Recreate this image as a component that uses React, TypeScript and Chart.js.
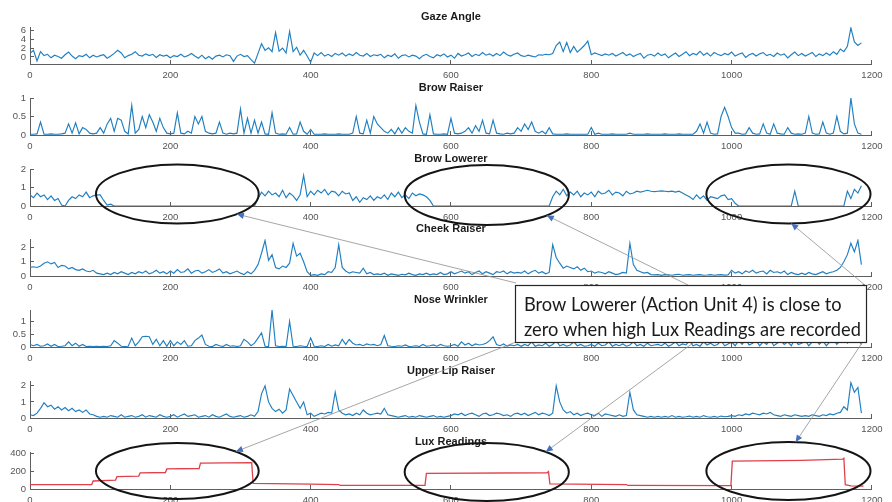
import React, { useEffect, useRef } from "react";
import { Chart, registerables } from "chart.js";
Chart.register(...registerables);

// ---------------- data ----------------
const STEP = 5; // sample spacing (frames)
const X_TICKS = [0, 200, 400, 600, 800, 1000, 1200];

const GAZE = [
  0.8, 1.5, -0.9, 1.2, 0.3, 0.6, -0.2, 0.4, 0.1, -0.3, 0.5, 1.1, 0.2, -0.4, 0.3, 0.1, 0.6, -0.2, 0.4, 0.0,
  0.3, 0.5, -0.3, 0.2, 0.8, 1.5, 0.9, -0.2, 0.3, 0.6, 1.2, 0.4, 0.2, 0.7, 0.3, 0.6, -0.1, 0.5, 0.2, 0.4,
  -0.2, 0.3, 0.1, 0.6, 0.0, 0.3, 0.8, 0.2, -0.3, 0.4, -0.4, 0.1, -0.5, 0.2, 0.4, 0.0, 0.5, 0.3, -1.0, 0.2,
  0.6, 0.1, 0.3, -0.6, -1.4, 0.8, 3.0, 1.5, 2.1, 1.2, 5.5, 1.3, 2.0, 0.9, 5.8, 1.2, 2.2, 0.4, 1.5, 0.2,
  -1.2, 0.9, 0.3, 1.0, 0.2, 0.6, 0.1, 0.8, 0.4, 0.9, 0.2, 0.7, 0.3, 1.0, 0.4, 0.2, 0.8, 0.1, 0.5, 0.3,
  0.6, -0.2, 0.4, 0.1, 0.7, -0.3, 0.3, 0.5, 0.0, 0.4, 0.2, -0.4, 0.3, 0.6, 0.1, -0.2, 0.5, 0.2, 0.7, 0.0,
  0.4, -0.3, 0.8, 0.2, 0.5, 0.9, 0.1, 0.6, 0.3, 1.0, 0.4, 0.7, 0.2, 0.8, 0.3, 1.1, 0.5, 0.2, 0.6, 0.9,
  0.3, 0.1, 0.4, 0.2, 0.0, 0.5, 0.4, 0.6, 0.5, 0.8, 2.6, 3.4, 1.2, 3.3, 1.0, 2.4, 1.1, 1.8, 2.6, 3.6,
  0.5, 0.9, 0.6, 0.3, 0.7, 0.4, 0.8, 0.2, 0.6, 1.0, 0.3, 0.7, 0.1, 0.5, 0.8, -0.3, 0.4, 0.6, 0.2, 0.9,
  0.3, 0.7, -0.2, 0.4, 0.9, 0.1, 0.6, 1.2, 0.3, 0.8, 0.5, 1.3, 0.4, 0.9, 0.2, 1.0, 0.6, 0.3, 0.8, 0.5,
  1.1, 0.2, 0.6, 0.9, -0.1, 0.5, 0.8, 0.2, 0.7, 1.0, 0.3, 0.6, 0.1, 0.9, 0.4, 0.7, -0.2, 0.5, 1.1, 0.3,
  0.8, 0.2, 0.6, 1.0, 0.1, 0.7, 0.3, 0.9, 0.4, 1.2, 0.6, 1.8, 1.2, 2.4, 6.6, 3.4, 2.6, 3.2,
];

const BROW_RAISER = [
  0.02, 0.02, 0.03, 0.35, 0.02, 0.02, 0.03, 0.02, 0.02, 0.03, 0.05, 0.3, 0.05, 0.33, 0.03, 0.2, 0.15, 0.05, 0.03, 0.05,
  0.2, 0.05, 0.3, 0.45, 0.1, 0.45, 0.4, 0.1, 0.03, 0.8, 0.05, 0.15, 0.5, 0.2, 0.55, 0.35, 0.1, 0.45, 0.2, 0.05,
  0.03, 0.05, 0.6, 0.05, 0.03, 0.1, 0.05, 0.5, 0.3, 0.5, 0.1, 0.05, 0.03, 0.05, 0.35, 0.05, 0.02, 0.05, 0.03, 0.05,
  0.7, 0.05, 0.45, 0.05, 0.4, 0.05, 0.35, 0.03, 0.02, 0.6, 0.05, 0.02, 0.03, 0.02, 0.2, 0.02, 0.03, 0.35, 0.1, 0.02,
  0.15, 0.02, 0.02, 0.02, 0.03, 0.02, 0.02, 0.02, 0.03, 0.02, 0.02, 0.02, 0.05, 0.5, 0.05, 0.03, 0.4, 0.05, 0.5, 0.3,
  0.2, 0.1, 0.05, 0.15, 0.03, 0.2, 0.05, 0.2, 0.1, 0.05, 0.8, 0.35, 0.03, 0.02, 0.55, 0.03, 0.02, 0.02, 0.03, 0.02,
  0.45, 0.05, 0.03, 0.05, 0.1, 0.2, 0.05, 0.25, 0.1, 0.4, 0.05, 0.03, 0.4, 0.05, 0.03, 0.02, 0.05, 0.03, 0.05, 0.2,
  0.1, 0.3, 0.15, 0.35, 0.1, 0.05, 0.1, 0.03, 0.2, 0.03, 0.02, 0.02, 0.02, 0.03, 0.02, 0.02, 0.02, 0.02, 0.02, 0.02,
  0.2, 0.02, 0.05, 0.02, 0.02, 0.02, 0.03, 0.02, 0.02, 0.02, 0.02, 0.05, 0.02, 0.02, 0.02, 0.02, 0.03, 0.02, 0.02, 0.02,
  0.02, 0.03, 0.02, 0.02, 0.02, 0.03, 0.02, 0.02, 0.02, 0.02, 0.1, 0.3, 0.05, 0.35, 0.05, 0.02, 0.03, 0.5, 0.75, 0.5,
  0.2, 0.05, 0.05, 0.02, 0.03, 0.2, 0.05, 0.02, 0.03, 0.3, 0.05, 0.02, 0.3, 0.05, 0.03, 0.02, 0.2, 0.05, 0.02, 0.03,
  0.02, 0.05, 0.5, 0.05, 0.02, 0.03, 0.35, 0.05, 0.02, 0.05, 0.5, 0.1, 0.03, 0.05, 1.0, 0.3, 0.05, 0.02,
];

const BROW_LOWERER = [
  0.6, 0.45, 0.7, 0.5, 0.6, 0.35, 0.55, 0.3, 0.4, 0.05, 0.0, 0.3, 0.5, 0.4, 0.6, 0.5, 0.75, 0.45, 0.55, 0.6,
  0.6, 0.3, 0.05, 0.1, 0, 0, 0, 0, 0, 0, 0, 0, 0, 0, 0, 0, 0, 0, 0, 0,
  0, 0, 0, 0, 0, 0, 0, 0, 0, 0, 0, 0, 0, 0, 0, 0, 0, 0, 0, 0,
  0, 0, 0, 0, 0, 0.4, 0.75, 0.55, 0.8, 0.6, 0.7, 0.5, 0.85, 0.45, 0.7, 0.55, 0.3, 0.6, 1.65, 0.5,
  0.8, 0.6, 0.85, 0.7, 0.9, 0.6, 0.8, 0.75, 0.55, 0.8, 0.65, 0.7, 0.3, 0.5, 0.2, 0.45, 0.35, 0.55, 0.3, 0.5,
  0.4, 0.6, 0.35, 0.7, 0.5, 0.75, 0.45, 0.6, 0.4, 0.7, 0.55, 0.65, 0.6, 0.5, 0.3, 0, 0, 0, 0, 0,
  0, 0, 0, 0, 0, 0, 0, 0, 0, 0, 0, 0, 0, 0, 0, 0, 0, 0, 0, 0,
  0, 0, 0, 0, 0, 0, 0, 0, 0, 0.5, 0.8, 0.6, 0.9, 0.55, 0.75, 0.6, 0.8, 0.5, 0.7, 0.6,
  0.75, 0.5, 0.8, 0.65, 0.7, 0.85, 0.6, 0.75, 0.7, 0.55, 0.8, 0.65, 0.7, 0.8, 0.75, 0.8, 0.85, 0.8, 0.78, 0.8,
  0.82, 0.8, 0.78, 0.8, 0.75, 0.8, 0.7, 0.6, 0.5, 0.35, 0.6, 0.4, 0.55, 0.3, 0.5, 0.45, 0.4, 0.55, 0.6, 0.35,
  0.4, 0.15, 0, 0, 0, 0, 0, 0, 0, 0, 0, 0, 0, 0, 0, 0, 0, 0, 0.8, 0,
  0, 0, 0, 0, 0, 0, 0, 0, 0, 0, 0, 0, 0, 0.8, 0.4, 0.9, 0.7, 1.1,
];

const CHEEK_RAISER = [
  0.6, 0.65, 0.6, 0.7, 0.9, 1.0, 0.85, 0.95, 0.6, 0.75, 0.7, 0.5, 0.6, 0.45, 0.4, 0.5, 0.35, 0.3, 0.4, 0.2,
  0.15, 0.1, 0.2, 0.1, 0.25, 0.15, 0.3, 0.2, 0.1, 0.25, 0.15, 0.3, 0.2, 0.35, 0.15, 0.25, 0.4, 0.2, 0.3, 0.15,
  0.35, 0.2, 0.45, 0.25, 0.3, 0.5, 0.2, 0.35, 0.4, 0.2, 0.3, 0.45, 0.25, 0.35, 0.5, 0.2, 0.3, 0.15, 0.25, 0.35,
  0.2, 0.1, 0.3, 0.15, 0.4, 0.8, 1.6, 2.5, 1.1, 1.5, 0.6, 0.5, 0.7, 0.6, 0.9, 2.3, 1.4, 1.6, 1.0, 0.3,
  0.05, 0.1, 0.05, 0.15, 0.1, 0.3, 0.25, 0.6, 2.2, 0.6, 0.35, 0.2, 0.3, 0.25, 0.2, 0.55, 0.15, 0.25, 0.1, 0.15,
  0.1, 0.2, 0.05, 0.15, 0.1, 0.05, 0.12, 0.08, 0.2, 0.1, 0.05, 0.15, 0.1, 0.2, 0.08, 0.15, 0.1, 0.25, 0.1, 0.15,
  0.3, 0.15, 0.25, 0.35, 0.2, 0.3, 0.1, 0.25, 0.35, 0.15, 0.3, 0.2, 0.1, 0.3, 0.25, 0.35, 0.15, 0.3, 0.2, 0.25,
  0.2, 0.35, 0.15, 0.3, 0.4, 0.2, 0.3, 0.15, 0.25, 2.2, 1.3, 0.9, 0.55, 0.7, 0.6, 0.5, 0.65, 0.4, 0.55, 0.3,
  0.35, 0.2, 0.3, 0.25, 0.15, 0.3, 0.2, 0.1, 0.15, 0.25, 0.2, 2.3, 0.8, 0.4, 0.3, 0.2, 0.25, 0.1, 0.08, 0.1,
  0.05, 0.1, 0.08, 0.05, 0.1, 0.12, 0.05, 0.08, 0.1, 0.05, 0.08, 0.1, 0.05, 0.07, 0.1, 0.05, 0.08, 0.1, 0.06, 0.08,
  0.4, 0.2, 0.3, 0.15, 0.35, 0.25, 0.4, 0.2, 0.3, 0.35, 0.15, 0.4, 0.25, 0.3, 0.2, 0.35, 0.1, 0.25, 0.15, 0.1,
  0.2, 0.1, 0.25, 0.15, 0.1, 0.2, 0.3, 0.15, 0.25, 0.3, 0.4, 0.6, 1.0, 1.5, 2.3, 1.7, 2.5, 0.8,
];

const NOSE_WRINKLER = [
  0.1, 0.05, 0.1, 0.03, 0.05, 0.12, 0.03, 0.1, 0.02, 0.03, 0.05, 0.2, 0.05, 0.15, 0.03, 0.1, 0.02, 0.03, 0.02, 0.03,
  0.02, 0.03, 0.02, 0.05, 0.25, 0.15, 0.03, 0.02, 0.03, 0.35, 0.05, 0.2, 0.4, 0.42, 0.4, 0.1, 0.3, 0.05, 0.25, 0.03,
  0.25, 0.05, 0.2, 0.1, 0.25, 0.03, 0.05, 0.25, 0.35, 0.47, 0.1, 0.03, 0.02, 0.1, 0.05, 0.02, 0.1, 0.03, 0.05, 0.02,
  0.05, 0.3, 0.2, 0.05, 0.15, 0.35, 0.55, 0.03, 0.02, 1.45, 0.05, 0.02, 0.03, 0.02, 1.0, 0.03, 0.02, 0.05, 0.03, 0.02,
  0.35, 0.03, 0.02, 0.05, 0.02, 0.1, 0.03, 0.08, 0.05, 0.3, 0.1, 0.3, 0.15, 0.08, 0.1, 0.05, 0.12, 0.08, 0.1, 0.05,
  0.1, 0.45, 0.05, 0.03, 0.02, 0.05, 0.03, 0.08, 0.02, 0.03, 0.05, 0.02, 0.1, 0.03, 0.05, 0.08, 0.03, 0.1, 0.05, 0.03,
  0.05, 0.1, 0.03, 0.2, 0.08, 0.15, 0.05, 0.12, 0.08, 0.1, 0.15, 0.25, 0.4, 0.1, 0.05, 0.12, 0.03, 0.08, 0.05, 0.1,
  0.03, 0.1, 0.05, 0.2, 0.03, 0.08, 0.05, 0.15, 0.03, 0.1, 0.25, 0.05, 0.1, 0.03, 0.08, 0.2, 0.05, 0.1, 0.03, 0.05,
  0.1, 0.03, 0.15, 0.05, 0.08, 0.2, 0.03, 0.1, 0.05, 0.12, 0.03, 0.08, 0.2, 0.05, 0.1, 0.03, 0.15, 0.05, 0.08, 0.1,
  0.05, 0.15, 0.03, 0.1, 0.2, 0.05, 0.12, 0.08, 0.25, 0.05, 0.1, 0.03, 0.2, 0.08, 0.15, 0.05, 0.1, 0.25, 0.05, 0.12,
  0.2, 0.05, 0.25, 0.1, 0.3, 0.08, 0.15, 0.25, 0.05, 0.2, 0.1, 0.3, 0.05, 0.15, 0.25, 0.1, 0.2, 0.05, 0.3, 0.1,
  0.15, 0.25, 0.05, 0.2, 0.3, 0.1, 0.25, 0.05, 0.2, 0.3, 0.1, 0.25, 0.35, 0.15, 0.3, 0.2, 0.35, 0.1,
];

const UPPER_LIP_RAISER = [
  0.2, 0.15, 0.3, 0.6, 0.95, 0.7, 0.8, 0.55, 0.7, 0.5, 0.65, 0.45, 0.6, 0.4, 0.5, 0.35, 0.5, 0.25, 0.2, 0.1,
  0.05, 0.1, 0.05, 0.15, 0.1, 0.05, 0.2, 0.05, 0.1, 0.15, 0.05, 0.1, 0.2, 0.05, 0.15, 0.1, 0.05, 0.2, 0.1, 0.05,
  0.1, 0.2, 0.05, 0.15, 0.25, 0.1, 0.15, 0.2, 0.05, 0.1, 0.15, 0.05, 0.2, 0.1, 0.05, 0.15, 0.25, 0.1, 0.05, 0.1,
  0.15, 0.05, 0.1, 0.2, 0.1, 0.4, 1.5, 2.0, 1.0, 0.6, 0.4, 0.55, 0.3, 0.5, 1.8, 1.4, 1.0, 0.6, 1.0, 0.2,
  0.3, 0.1, 0.2, 0.3, 0.25, 0.35, 0.3, 1.6, 0.5, 0.3, 0.2, 0.25, 0.15, 0.3, 0.2, 0.5, 0.3, 0.2, 0.25, 0.3,
  0.25, 0.6, 0.2, 0.15, 0.1, 0.05, 0.1, 0.15, 0.05, 0.1, 0.05, 0.15, 0.1, 0.05, 0.1, 0.15, 0.05, 0.1, 0.05, 0.1,
  0.15, 0.25, 0.2, 0.3, 0.15, 0.25, 0.3, 0.2, 0.1, 0.25, 0.3, 0.15, 0.2, 0.3, 0.25, 0.15, 0.2, 0.1, 0.25, 0.3,
  0.2, 0.3, 0.15, 0.25, 0.35, 0.2, 0.3, 0.25, 0.15, 0.3, 2.0, 1.0, 0.5, 0.3, 0.4, 0.2, 0.3, 0.15, 0.25, 0.3,
  0.2, 0.15, 0.3, 0.1, 0.25, 0.2, 0.15, 0.1, 0.2, 0.1, 0.15, 1.6, 0.5, 0.2, 0.15, 0.1, 0.05, 0.1, 0.05, 0.1,
  0.05, 0.1, 0.05, 0.15, 0.05, 0.1, 0.05, 0.08, 0.12, 0.05, 0.1, 0.05, 0.15, 0.08, 0.05, 0.1, 0.05, 0.12, 0.08, 0.1,
  0.15, 0.1, 0.2, 0.15, 0.25, 0.2, 0.3, 0.25, 0.2, 0.3, 0.25, 0.35, 0.2, 0.15, 0.1, 0.2, 0.15, 0.1, 0.2, 0.15,
  0.1, 0.15, 0.1, 0.2, 0.15, 0.1, 0.2, 0.15, 0.25, 0.2, 0.3, 0.35, 0.7, 0.5, 2.2, 1.6, 1.9, 0.3,
];

// Lux readings: step-like signal, given as (frame, lux) pairs
const LUX_X = [0, 88, 90, 122, 124, 155, 157, 193, 195, 241, 243, 316, 318, 400, 440, 442, 563, 565, 737, 739, 741, 850, 852, 999, 1001, 1100, 1158, 1160, 1162, 1170, 1188];
const LUX_Y = [50, 50, 90, 100, 140, 145, 180, 185, 225, 230, 290, 296, 62, 55, 50, 40, 42, 175, 182, 195, 58, 50, 40, 38, 312, 322, 334, 345, 48, 36, 32];

const TITLES = ["Gaze Angle", "Brow Raiser", "Brow Lowerer", "Cheek Raiser", "Nose Wrinkler", "Upper Lip Raiser", "Lux Readings"];
const Y_MIN = [-1.6, 0, 0, 0, 0, 0, 0];
const Y_MAX = [6.8, 1, 2, 2.6, 1.45, 2.3, 415];
const Y_TICKS = [[0, 2, 4, 6], [0, 0.5, 1], [0, 1, 2], [0, 1, 2], [0, 0.5, 1], [0, 1, 2], [0, 200, 400]];

const NOTE_LINES = ["Brow Lowerer (Action Unit 4) is close to", "zero when high Lux Readings are recorded"];

// ---------------- styling / layout ----------------
const W = 892;
const H = 502;
const FONT = "'Liberation Sans', Arial, Helvetica, sans-serif";
const BLUE = "#1f7fc0";
const RED = "#e0404a";
const AXIS = "#5e5e5e";
const TICK = "#555555";
const TITLE_H = 20;
const PLOT_H = 37;
const XAXIS_H = 17;
const CANVAS_H = TITLE_H + PLOT_H + XAXIS_H;
const PLOT_BOTTOMS = [64, 135, 206, 276, 347, 418, 489];
const CANVAS_TOPS = PLOT_BOTTOMS.map((b) => b - PLOT_H - TITLE_H);

// annotation geometry (ellipses in frame units horizontally, px vertically)
const ELLIPSES = [
  { panel: 2, cx: 210, rx: 116, dy: -12, ry: 29.5 },
  { panel: 2, cx: 651, rx: 117, dy: -11, ry: 30 },
  { panel: 2, cx: 1081, rx: 117, dy: -12, ry: 29.5 },
  { panel: 6, cx: 210, rx: 116, dy: -18, ry: 28 },
  { panel: 6, cx: 651, rx: 117, dy: -17, ry: 29 },
  { panel: 6, cx: 1081, rx: 117, dy: -18, ry: 29 },
];
const NOTE_BOX = { left: 515, top: 285, right: 867, bottom: 343 };
const ARROWS = [
  { e: 0, angle: 43, tail: [516, 283] },
  { e: 1, angle: 43, tail: [688, 285] },
  { e: 2, angle: 88, tail: [866, 286] },
  { e: 3, angle: -44, tail: [516, 342] },
  { e: 4, angle: -44, tail: [693, 343] },
  { e: 5, angle: -85, tail: [862, 343] },
];

function seriesPoints(k: number) {
  const arrs = [GAZE, BROW_RAISER, BROW_LOWERER, CHEEK_RAISER, NOSE_WRINKLER, UPPER_LIP_RAISER];
  if (k < 6) return arrs[k].map((v, i) => ({ x: i * STEP, y: v }));
  return LUX_X.map((x, i) => ({ x, y: LUX_Y[i] }));
}

function panelConfig(k: number): any {
  const tickFont = { family: FONT, size: 9.5 };
  return {
    type: "line",
    data: {
      datasets: [
        {
          data: seriesPoints(k),
          borderColor: k === 6 ? RED : BLUE,
          borderWidth: k === 6 ? 1.3 : 1.15,
          pointRadius: 0,
          tension: 0,
          fill: false,
        },
      ],
    },
    options: {
      animation: false,
      responsive: false,
      events: [],
      layout: { padding: { left: 0, right: 11, top: 0, bottom: 0 } },
      plugins: {
        legend: { display: false },
        tooltip: { enabled: false },
        title: {
          display: true,
          text: TITLES[k],
          fullSize: false,
          color: "#1a1a1a",
          font: { family: FONT, size: 11, weight: "bold", lineHeight: 12 / 11 },
          padding: { top: 4, bottom: 4 },
        },
      },
      scales: {
        x: {
          type: "linear",
          min: 0,
          max: 1200,
          afterBuildTicks: (s: any) => {
            s.ticks = X_TICKS.map((v) => ({ value: v }));
          },
          afterFit: (s: any) => {
            s.height = XAXIS_H;
          },
          grid: { drawOnChartArea: false, drawTicks: true, tickLength: -4, color: AXIS, lineWidth: 1 },
          border: { color: AXIS, width: 1 },
          ticks: {
            font: tickFont,
            color: TICK,
            padding: 9.5,
            maxRotation: 0,
            autoSkip: false,
            callback: (v: any) => String(v),
          },
        },
        y: {
          type: "linear",
          min: Y_MIN[k],
          max: Y_MAX[k],
          afterBuildTicks: (s: any) => {
            s.ticks = Y_TICKS[k].map((v) => ({ value: v }));
          },
          afterFit: (s: any) => {
            s.width = 30;
          },
          grid: { drawOnChartArea: false, drawTicks: true, tickLength: -4, color: AXIS, lineWidth: 1 },
          border: { color: AXIS, width: 1 },
          ticks: {
            font: tickFont,
            color: TICK,
            padding: 8,
            autoSkip: false,
            callback: (v: any) => String(v),
          },
        },
      },
    },
  };
}

function drawAnnotations(ctx: CanvasRenderingContext2D, panels: any[]) {
  const ell = ELLIPSES.map((e) => {
    const ch = panels[e.panel];
    const sx = ch.scales.x;
    const cx = sx.getPixelForValue(e.cx);
    const rx = sx.getPixelForValue(e.cx + e.rx) - cx;
    const cy = CANVAS_TOPS[e.panel] + ch.chartArea.bottom + e.dy;
    return { cx, cy, rx, ry: e.ry };
  });

  ctx.save();
  // ellipses
  ctx.strokeStyle = "#141414";
  ctx.lineWidth = 2;
  ell.forEach((e) => {
    ctx.beginPath();
    ctx.ellipse(e.cx, e.cy, e.rx, e.ry, 0, 0, Math.PI * 2);
    ctx.stroke();
  });

  // arrows
  ARROWS.forEach((a) => {
    const e = ell[a.e];
    const t = (a.angle * Math.PI) / 180;
    const hx = e.cx + e.rx * Math.cos(t);
    const hy = e.cy + e.ry * Math.sin(t);
    const [tx, ty] = a.tail;
    ctx.strokeStyle = "#8f8f8f";
    ctx.lineWidth = 0.8;
    ctx.beginPath();
    ctx.moveTo(tx, ty);
    ctx.lineTo(hx, hy);
    ctx.stroke();
    const ang = Math.atan2(hy - ty, hx - tx);
    const L = 7;
    const Wd = 3.2;
    ctx.fillStyle = "#4470c0";
    ctx.beginPath();
    ctx.moveTo(hx, hy);
    ctx.lineTo(hx - L * Math.cos(ang) + Wd * Math.sin(ang), hy - L * Math.sin(ang) - Wd * Math.cos(ang));
    ctx.lineTo(hx - L * Math.cos(ang) - Wd * Math.sin(ang), hy - L * Math.sin(ang) + Wd * Math.cos(ang));
    ctx.closePath();
    ctx.fill();
  });

  // note box
  const b = NOTE_BOX;
  ctx.fillStyle = "#ffffff";
  ctx.fillRect(b.left, b.top, b.right - b.left, b.bottom - b.top);
  ctx.strokeStyle = "#262626";
  ctx.lineWidth = 1.2;
  ctx.strokeRect(b.left + 0.5, b.top + 0.5, b.right - b.left - 1, b.bottom - b.top - 1);

  // text, sized so the second line spans the box like the original
  const family = "Lato, 'Open Sans', sans-serif";
  ctx.font = `20px ${family}`;
  const target = 337;
  const measured = ctx.measureText(NOTE_LINES[1]).width;
  const size = (20 * target) / measured;
  ctx.font = `${size.toFixed(2)}px ${family}`;
  ctx.fillStyle = "#1a1a1a";
  ctx.textBaseline = "middle";
  ctx.textAlign = "left";
  ctx.fillText(NOTE_LINES[0], b.left + 9, b.top + 20);
  ctx.fillText(NOTE_LINES[1], b.left + 9, b.top + 45);
  ctx.restore();
}

export default function App() {
  const refs = useRef<(HTMLCanvasElement | null)[]>([]);
  const overlayRef = useRef<HTMLCanvasElement | null>(null);

  useEffect(() => {
    const panels: any[] = [];
    for (let k = 0; k < 7; k++) {
      const c = refs.current[k];
      if (c) panels.push(new Chart(c, panelConfig(k)));
    }
    let overlay: any = null;
    if (overlayRef.current) {
      overlay = new Chart(overlayRef.current, {
        type: "line",
        data: { datasets: [] },
        options: {
          animation: false,
          responsive: false,
          events: [],
          plugins: { legend: { display: false }, tooltip: { enabled: false } },
          scales: { x: { display: false }, y: { display: false } },
        },
        plugins: [
          {
            id: "notes",
            afterDraw: (chart: any) => drawAnnotations(chart.ctx, panels),
          },
        ],
      } as any);
    }
    return () => {
      panels.forEach((p) => p.destroy());
      if (overlay) overlay.destroy();
    };
  }, []);

  return (
    <div
      style={{
        position: "fixed",
        left: 0,
        top: 0,
        width: W,
        height: H,
        background: "#ffffff",
        overflow: "hidden",
      }}
    >
      {TITLES.map((t, k) => (
        <canvas
          key={t}
          ref={(el) => {
            refs.current[k] = el;
          }}
          width={W}
          height={CANVAS_H}
          style={{ position: "absolute", left: 0, top: CANVAS_TOPS[k], width: W, height: CANVAS_H }}
        />
      ))}
      <canvas
        ref={overlayRef}
        width={W}
        height={H}
        style={{ position: "absolute", left: 0, top: 0, width: W, height: H, pointerEvents: "none" }}
      />
    </div>
  );
}
